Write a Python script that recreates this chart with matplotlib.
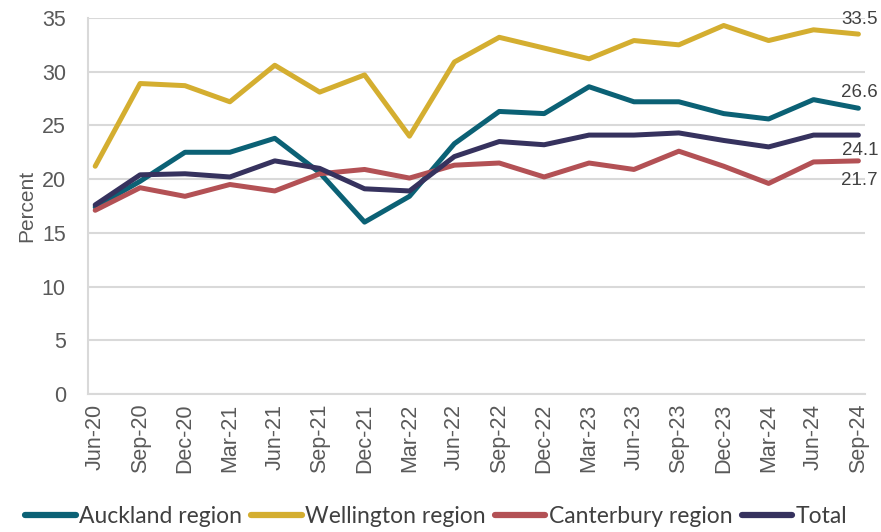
import matplotlib
matplotlib.use("Agg")
import matplotlib.pyplot as plt

# data
quarters = ["Jun-20", "Sep-20", "Dec-20", "Mar-21", "Jun-21", "Sep-21", "Dec-21", "Mar-22", "Jun-22",
            "Sep-22", "Dec-22", "Mar-23", "Jun-23", "Sep-23", "Dec-23", "Mar-24", "Jun-24", "Sep-24"]
auckland = [17.4, 19.8, 22.5, 22.5, 23.8, 20.6, 16.0, 18.4, 23.3,
            26.3, 26.1, 28.6, 27.2, 27.2, 26.1, 25.6, 27.4, 26.6]
wellington = [21.2, 28.9, 28.7, 27.2, 30.6, 28.1, 29.7, 24.0, 30.9,
              33.2, 32.2, 31.2, 32.9, 32.5, 34.3, 32.9, 33.9, 33.5]
canterbury = [17.1, 19.2, 18.4, 19.5, 18.9, 20.5, 20.9, 20.1, 21.3,
              21.5, 20.2, 21.5, 20.9, 22.6, 21.2, 19.6, 21.6, 21.7]
total = [17.6, 20.4, 20.5, 20.2, 21.7, 21.0, 19.1, 18.9, 22.1,
         23.5, 23.2, 24.1, 24.1, 24.3, 23.6, 23.0, 24.1, 24.1]

series = [
    ("Auckland region", auckland, "#0b6175", 16),
    ("Wellington region", wellington, "#d4ae30", 15),
    ("Canterbury region", canterbury, "#b35155", -20),
    ("Total", total, "#36325e", -15),
]

plt.rcParams['font.family'] = ['Liberation Sans', 'DejaVu Sans']

fig = plt.figure(figsize=(8.81, 5.32), dpi=100)
ax = fig.add_axes([0.0999, 0.2594, 0.8821, 0.7068])

x = list(range(len(quarters)))
for name, vals, col, off in series:
    ax.plot(x, vals, color=col, lw=3.6, label=name, solid_capstyle='round', solid_joinstyle='round')
    ax.annotate(f"{vals[-1]:.1f}", xy=(x[-1], vals[-1]), xytext=(1, off * 0.72),
                textcoords='offset points', ha='center', va='center',
                fontsize=13.5, color='#404040')

ax.set_xlim(-0.16, 17.15)
ax.set_ylim(0, 35)
ax.set_yticks(range(0, 36, 5))
ax.set_xticks(x)
ax.set_xticklabels(quarters, rotation=90)
ax.tick_params(axis='both', length=0, labelsize=15.5, colors='#595959')
ax.tick_params(axis='x', pad=7)
ax.tick_params(axis='y', pad=16)
ax.set_ylabel("Percent", fontsize=15, color='#595959', labelpad=4)

ax.grid(axis='y', color='#d9d9d9', lw=1.5)
ax.set_axisbelow(True)
for s in ['top', 'right']:
    ax.spines[s].set_visible(False)
for s in ['left', 'bottom']:
    ax.spines[s].set_color('#d9d9d9')
    ax.spines[s].set_linewidth(1.5)

leg = fig.legend(loc='lower center', bbox_to_anchor=(0.495, -0.03), ncol=4, frameon=False,
                 handlelength=2.2, handletextpad=0.15, columnspacing=0.4,
                 prop={'family': ['Lato', 'DejaVu Sans'], 'size': 16.5})
for t in leg.get_texts():
    t.set_color('#404040')
for h in leg.get_lines():
    h.set_linewidth(4.5)

fig.savefig("out.png", dpi=100)
